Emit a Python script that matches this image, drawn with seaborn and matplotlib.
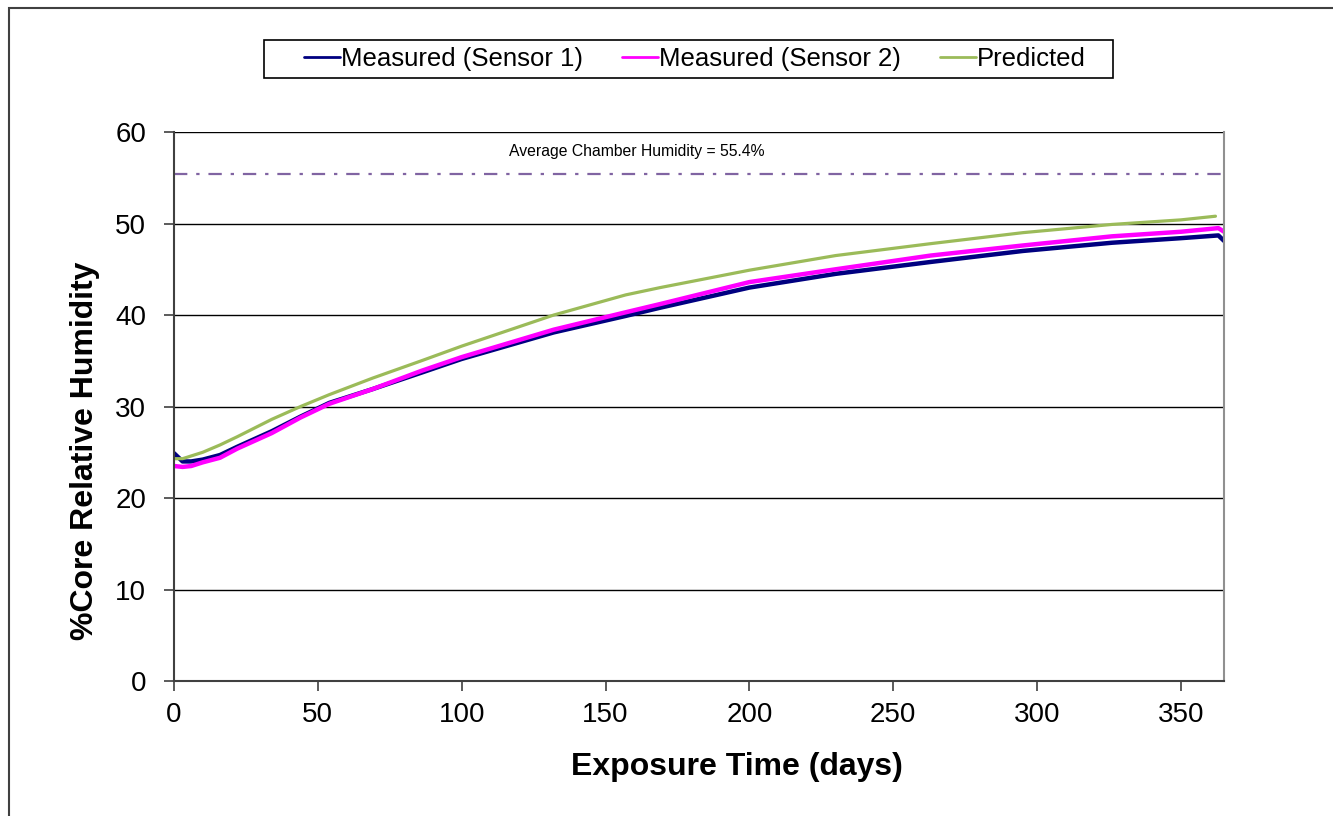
import pandas as pd
import numpy as np
import seaborn as sns
import matplotlib.pyplot as plt
from matplotlib.patches import Rectangle

sns.set_style('white')
plt.rcParams['font.family'] = ['Liberation Sans', 'DejaVu Sans']
plt.rcParams['text.color'] = 'black'
plt.rcParams['axes.labelcolor'] = 'black'
plt.rcParams['xtick.color'] = 'black'
plt.rcParams['ytick.color'] = 'black'

# values
dias = [0, 3, 6, 10, 16, 22, 34, 44, 54, 69, 86, 100, 132, 157, 169, 200, 230, 263, 295, 326, 350, 363, 365]
sensor1 = [24.9, 24.0, 24.0, 24.2, 24.7, 25.6, 27.3, 28.9, 30.4, 31.9, 33.7, 35.2, 38.1, 39.9, 40.8,
           43.0, 44.5, 45.8, 47.0, 47.9, 48.4, 48.7, 48.1]
sensor2 = [23.5, 23.4, 23.5, 23.9, 24.4, 25.4, 27.1, 28.8, 30.3, 31.9, 33.9, 35.4, 38.4, 40.3, 41.2,
           43.6, 45.0, 46.5, 47.6, 48.6, 49.1, 49.5, 49.1]
dias_pred = [0, 3, 6, 10, 16, 22, 34, 44, 54, 69, 86, 100, 132, 157, 169, 200, 230, 263, 295, 326, 350, 362]
previsto = [24.3, 24.3, 24.6, 25.0, 25.8, 26.7, 28.6, 30.0, 31.3, 33.1, 35.0, 36.6, 40.0, 42.2, 43.0,
            44.9, 46.5, 47.8, 49.0, 49.9, 50.4, 50.8]
umidade_camara = 55.4

df1 = pd.DataFrame({'Dias': dias, 'UR': sensor1})
df2 = pd.DataFrame({'Dias': dias, 'UR': sensor2})
df3 = pd.DataFrame({'Dias': dias_pred, 'UR': previsto})

fig = plt.figure(figsize=(13.33, 8.16), dpi=100)
ax = fig.add_axes([0.1305, 0.1654, 0.7878, 0.6728])

sns.lineplot(x='Dias', y='UR', data=df1, ax=ax, color='#000080', lw=3.2, label='Measured (Sensor 1)')
sns.lineplot(x='Dias', y='UR', data=df2, ax=ax, color='#FF00FF', lw=3.2, label='Measured (Sensor 2)')
sns.lineplot(x='Dias', y='UR', data=df3, ax=ax, color='#9BBB59', lw=2.3, label='Predicted')

ax.axhline(umidade_camara, color='#8064A2', lw=1.6, ls=(0, (6, 4, 1.5, 4)), zorder=1)
ax.text(161, 57.9, 'Average Chamber Humidity = 55.4%', fontsize=11.3, ha='center', va='center')

ax.set_xlim(0, 365)
ax.set_ylim(0, 60)
ax.set_xticks(range(0, 351, 50))
ax.set_yticks(range(0, 61, 10))
ax.yaxis.grid(True, color='black', lw=1)
ax.set_axisbelow(True)
ax.tick_params(axis='both', labelsize=20, direction='out', length=7, width=1.2, color='#404040',
               left=True, bottom=True)
ax.tick_params(axis='x', pad=8)
ax.tick_params(axis='y', pad=13)
for s in ['left', 'bottom']:
    ax.spines[s].set_color('#404040')
    ax.spines[s].set_linewidth(1.5)
ax.spines['right'].set_color('#909090')
ax.spines['right'].set_linewidth(1.5)
ax.spines['top'].set_visible(False)

ax.set_xlabel('Exposure Time (days)', fontsize=23, fontweight='bold')
ax.set_ylabel('%Core Relative Humidity', fontsize=23, fontweight='bold')
ax.xaxis.set_label_coords(0.536, -0.157)
ax.yaxis.set_label_coords(-0.085, 0.419)
ax.xaxis.label.set_va('center')
ax.yaxis.label.set_va('center')

ax.get_legend().remove()
h, l = ax.get_legend_handles_labels()
leg = fig.legend(h, l, loc='center', bbox_to_anchor=(695 / 1333, 1 - 59 / 816), ncol=3, fontsize=18.5,
                 frameon=False, handlelength=1.4, handletextpad=0.05, columnspacing=1.5)
for ln in leg.get_lines():
    ln.set_linewidth(2)

# caixa da legenda e moldura externa do gráfico
fig.add_artist(Rectangle((264 / 1333, 1 - 78 / 816), 849 / 1333, 38 / 816, transform=fig.transFigure,
                         fill=False, edgecolor='black', lw=1.2))
fig.add_artist(Rectangle((9 / 1333, -0.1), 1.2, 1.1 - 8 / 816, transform=fig.transFigure,
                         fill=False, edgecolor='#404040', lw=1.5))

fig.savefig('out.png', dpi=100)
